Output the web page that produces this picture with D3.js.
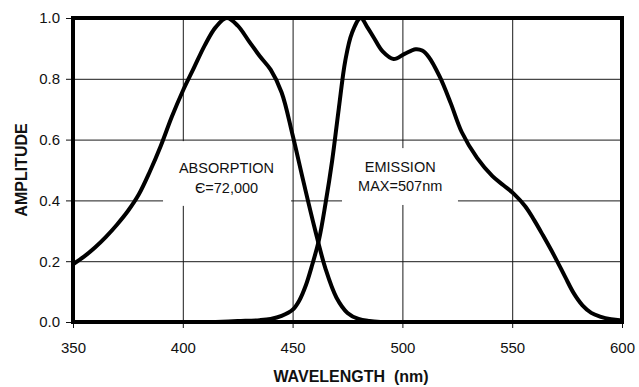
<!DOCTYPE html>
<html>
<head>
<meta charset="utf-8">
<script src="https://cdn.jsdelivr.net/npm/d3@7"></script>
<style>
  body { margin: 0; background: #fff; }
  svg { display: block; font-family: "Liberation Sans", Arial, Helvetica, sans-serif; }
</style>
</head>
<body>
<svg id="spectrum-svg" width="639" height="387"></svg>
<script>
// absorption spectrum
const absWavelength = [350, 355, 360, 365, 370, 375, 380, 385, 390, 395, 400, 405, 410, 415, 420,
    425, 430, 435, 440, 445, 450, 455, 460, 465, 470, 475, 480, 485, 490];
const absAmplitude = [0.19, 0.215, 0.245, 0.28, 0.32, 0.365, 0.42, 0.495, 0.58, 0.675, 0.76, 0.835, 0.91, 0.97, 1.0,
    0.975, 0.925, 0.875, 0.83, 0.755, 0.615, 0.46, 0.31, 0.175, 0.08, 0.03, 0.01, 0.003, 0.0];

// emission spectrum
const emWavelength = [415, 425, 435, 440, 445, 450, 453, 456, 459, 462, 465, 468, 471, 474, 477, 481,
    484, 487, 491, 496, 501, 506, 509, 512, 517, 522, 527, 534, 541, 546, 551, 556, 560, 564,
    569, 574, 578, 582, 586, 590, 595, 600];
const emAmplitude = [0.0, 0.003, 0.006, 0.01, 0.02, 0.04, 0.07, 0.12, 0.19, 0.27, 0.39, 0.53, 0.70, 0.86, 0.95, 1.0,
    0.97, 0.935, 0.89, 0.865, 0.882, 0.897, 0.893, 0.872, 0.807, 0.72, 0.625, 0.54, 0.48, 0.45, 0.42, 0.38, 0.335, 0.285,
    0.22, 0.15, 0.095, 0.055, 0.03, 0.018, 0.009, 0.005];

const xTicks = [350, 400, 450, 500, 550, 600];
const yTicks = [0.0, 0.2, 0.4, 0.6, 0.8, 1.0];

function createSpectrum() {
    const size = { width: 639, height: 387, left: 73, right: 17, top: 18, bottom: 65 };
    const svg = d3.select('#spectrum-svg');

    const xScale = d3.scaleLinear()
        .domain([350, 600])
        .range([size.left, size.width - size.right]);

    const yScale = d3.scaleLinear()
        .domain([0, 1])
        .range([size.height - size.bottom, size.top]);

    const x0 = xScale(350), x1 = xScale(600), y0 = yScale(0), y1 = yScale(1);

    // grid
    svg.append("g")
        .attr("transform", `translate(0, ${y0})`)
        .call(d3.axisBottom(xScale).tickValues(xTicks).tickSize(-(y0 - y1)).tickFormat(""))
        .call(g => g.select(".domain").remove())
        .call(g => g.selectAll("line").attr("stroke", "#1a1a1a").attr("stroke-width", 1));

    svg.append("g")
        .attr("transform", `translate(${x0}, 0)`)
        .call(d3.axisLeft(yScale).tickValues(yTicks).tickSize(-(x1 - x0)).tickFormat(""))
        .call(g => g.select(".domain").remove())
        .call(g => g.selectAll("line").attr("stroke", "#1a1a1a").attr("stroke-width", 1));

    // white boxes behind the labels
    const boxes = [
        { w0: 391, w1: 449.3, a0: 0.382, a1: 0.595 },
        { w0: 472.5, w1: 525.3, a0: 0.385, a1: 0.572 }
    ];
    svg.append("g").selectAll("rect")
        .data(boxes)
        .join("rect")
        .attr("x", d => xScale(d.w0))
        .attr("y", d => yScale(d.a1))
        .attr("width", d => xScale(d.w1) - xScale(d.w0))
        .attr("height", d => yScale(d.a0) - yScale(d.a1))
        .attr("fill", "#fff");

    // axes
    svg.append("g")
        .attr("transform", `translate(0, ${y0})`)
        .call(d3.axisBottom(xScale).tickValues(xTicks).tickSize(6).tickPadding(14).tickFormat(d3.format("d")))
        .call(g => g.select(".domain").remove())
        .call(g => g.selectAll("line").attr("stroke", "#111"))
        .call(g => g.selectAll("text").attr("font-size", 15).attr("fill", "#111")
            .attr("font-family", "Liberation Sans, Arial, sans-serif"));

    svg.append("g")
        .attr("transform", `translate(${x0}, 0)`)
        .call(d3.axisLeft(yScale).tickValues(yTicks).tickSize(7).tickPadding(6).tickFormat(d3.format(".1f")))
        .call(g => g.select(".domain").remove())
        .call(g => g.selectAll("line").attr("stroke", "#111"))
        .call(g => g.selectAll("text").attr("font-size", 15).attr("fill", "#111")
            .attr("font-family", "Liberation Sans, Arial, sans-serif"));

    // curves
    const absData = absWavelength.map((w, i) => ({ w: w, a: absAmplitude[i] }));
    const emData = emWavelength.map((w, i) => ({ w: w, a: emAmplitude[i] }));

    const line = d3.line()
        .x(d => xScale(d.w))
        .y(d => yScale(d.a))
        .curve(d3.curveCatmullRom.alpha(0.5));

    svg.append("clipPath").attr("id", "plot-clip")
        .append("rect")
        .attr("x", x0).attr("y", y1).attr("width", x1 - x0).attr("height", y0 - y1);

    [absData, emData].forEach(data => {
        svg.append("path")
            .datum(data)
            .attr("clip-path", "url(#plot-clip)")
            .attr("fill", "none")
            .attr("stroke", "#000")
            .attr("stroke-width", 4)
            .attr("stroke-linejoin", "round")
            .attr("d", line);
    });

    // frame
    svg.append("rect")
        .attr("x", x0)
        .attr("y", y1)
        .attr("width", x1 - x0)
        .attr("height", y0 - y1)
        .attr("fill", "none")
        .attr("stroke", "#000")
        .attr("stroke-width", 4);

    // labels inside the plot
    const notes = [
        { w: 419.9, a: 0.489, text: "ABSORPTION" },
        { w: 419.9, a: 0.425, text: "Є=72,000" },
        { w: 499, a: 0.494, text: "EMISSION" },
        { w: 499, a: 0.432, text: "MAX=507nm" }
    ];
    svg.append("g").selectAll("text")
        .data(notes)
        .join("text")
        .attr("x", d => xScale(d.w))
        .attr("y", d => yScale(d.a))
        .attr("text-anchor", "middle")
        .attr("font-size", 14.5)
        .attr("fill", "#111")
        .text(d => d.text);

    // axis titles
    svg.append("text")
        .attr("x", 351)
        .attr("y", 382)
        .attr("text-anchor", "middle")
        .attr("font-size", 16)
        .attr("font-weight", "bold")
        .attr("fill", "#111")
        .style("white-space", "pre")
        .text("WAVELENGTH  (nm)");

    svg.append("text")
        .attr("transform", "rotate(-90)")
        .attr("x", -(y0 + y1) / 2)
        .attr("y", 27)
        .attr("text-anchor", "middle")
        .attr("font-size", 16)
        .attr("font-weight", "bold")
        .attr("fill", "#111")
        .text("AMPLITUDE");
}

createSpectrum();
</script>
</body>
</html>
